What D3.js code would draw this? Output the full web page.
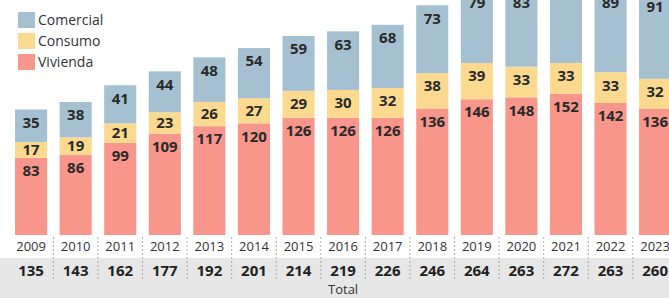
<!DOCTYPE html>
<html>
<head>
<meta charset="utf-8">
<script src="https://cdn.jsdelivr.net/npm/d3@7"></script>
<style>
  body { margin: 0; background: #fff; }
  svg { display: block; font-family: "Open Sans", "Noto Sans", sans-serif; }
</style>
</head>
<body>
<svg id="chart" width="669" height="298"></svg>
<script>
const years = ["2009","2010","2011","2012","2013","2014","2015","2016","2017","2018","2019","2020","2021","2022","2023"];
const vivienda  = [83, 86, 99, 109, 117, 120, 126, 126, 126, 136, 146, 148, 152, 142, 136];
const consumo   = [17, 19, 21, 23, 26, 27, 29, 30, 32, 38, 39, 33, 33, 33, 32];
const comercial = [35, 38, 41, 44, 48, 54, 59, 63, 68, 73, 79, 83, 87, 89, 91];
const totals    = [135, 143, 162, 177, 192, 201, 214, 219, 226, 246, 264, 263, 272, 263, 260];

const keys = ["vivienda", "consumo", "comercial"];
const labels = {comercial: "Comercial", consumo: "Consumo", vivienda: "Vivienda"};
const colors = {comercial: "#a5c1d1", consumo: "#fbd98e", vivienda: "#f8968b"};

const width = 669, height = 298;
const baseY = 235;

const svg = d3.select("#chart");

const data = years.map((y, i) => ({
  year: y, vivienda: vivienda[i], consumo: consumo[i], comercial: comercial[i], total: totals[i]
}));

const x = d3.scaleBand()
  .domain(years)
  .range([8.8, 677.4])
  .paddingInner(0.28)
  .paddingOuter(0.14);

const y = d3.scaleLinear()
  .domain([0, 300])
  .range([baseY, baseY - 300 * 0.93]);

// grey band for totals
svg.append("rect")
  .attr("x", 0).attr("y", 258)
  .attr("width", width).attr("height", height - 258)
  .attr("fill", "#e7e7e7");

// dashed separators
svg.append("g")
  .selectAll("line")
  .data(years.slice(1))
  .join("line")
  .attr("x1", d => x(d) - x.step() * x.paddingInner() / 2)
  .attr("x2", d => x(d) - x.step() * x.paddingInner() / 2)
  .attr("y1", 237)
  .attr("y2", 280)
  .attr("stroke", "#9a9a9a")
  .attr("stroke-width", 0.8)
  .attr("stroke-dasharray", "2,2");

const series = d3.stack().keys(keys)(data);

const layer = svg.append("g")
  .selectAll("g")
  .data(series)
  .join("g")
  .attr("fill", d => colors[d.key]);

layer.selectAll("rect")
  .data(d => d)
  .join("rect")
  .attr("x", d => x(d.data.year))
  .attr("width", x.bandwidth())
  .attr("y", d => y(d[1]))
  .attr("height", d => y(d[0]) - y(d[1]));

// segment labels
const lab = svg.append("g")
  .attr("font-weight", "bold")
  .attr("font-size", 15)
  .attr("fill", "#2a2a2a")
  .attr("text-anchor", "middle");

series.forEach(s => {
  lab.selectAll(null)
    .data(s)
    .join("text")
    .attr("x", d => x(d.data.year) + x.bandwidth() / 2)
    .attr("y", d => {
      const top = y(d[1]), h = y(d[0]) - y(d[1]);
      return top + Math.min(h / 2, 13);
    })
    .attr("dy", "0.35em")
    .text(d => d.data[s.key]);
});

// year labels
svg.append("g")
  .attr("font-size", 13)
  .attr("fill", "#333")
  .attr("text-anchor", "middle")
  .selectAll("text")
  .data(years)
  .join("text")
  .attr("x", d => x(d) + x.bandwidth() / 2)
  .attr("y", 246)
  .attr("dy", "0.35em")
  .text(d => d);

// totals
svg.append("g")
  .attr("font-size", 15)
  .attr("font-weight", "bold")
  .attr("fill", "#222")
  .attr("text-anchor", "middle")
  .selectAll("text")
  .data(data)
  .join("text")
  .attr("x", d => x(d.year) + x.bandwidth() / 2)
  .attr("y", 271)
  .attr("dy", "0.35em")
  .text(d => d.total);

svg.append("text")
  .attr("x", x("2016") + x.bandwidth() / 2)
  .attr("y", 289)
  .attr("dy", "0.35em")
  .attr("text-anchor", "middle")
  .attr("font-size", 13)
  .attr("fill", "#333")
  .text("Total");

// legend
const legend = svg.append("g")
  .selectAll("g")
  .data(["comercial", "consumo", "vivienda"])
  .join("g")
  .attr("transform", (d, i) => `translate(18,${12 + i * 21})`);

legend.append("rect")
  .attr("width", 17)
  .attr("height", 16)
  .attr("fill", d => colors[d]);

legend.append("text")
  .attr("x", 20)
  .attr("y", 8)
  .attr("dy", "0.35em")
  .attr("font-size", 14)
  .attr("fill", "#333")
  .text(d => labels[d]);
</script>
</body>
</html>
